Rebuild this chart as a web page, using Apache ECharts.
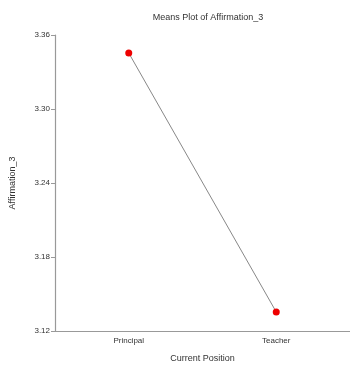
<!DOCTYPE html>
<html><head><meta charset="utf-8">
<script src="https://cdn.jsdelivr.net/npm/echarts@6/dist/echarts.min.js"></script>
<style>html,body{margin:0;padding:0;background:#fff}#c{width:350px;height:368px}</style>
</head><body><div id="c"></div>
<script>
const categories = ['Principal', 'Teacher'];
const means = [3.3454, 3.1354];
const yTicks = [3.12, 3.18, 3.24, 3.30, 3.36];

const chart = echarts.init(document.getElementById('c'), null, {renderer: 'canvas'});
const font = 'Liberation Sans, Arial, sans-serif';
chart.setOption({
  animation: false,
  backgroundColor: '#fff',
  title: {
    text: 'Means Plot of Affirmation_3',
    left: 203, top: 8, textAlign: 'center',
    textStyle: {fontSize: 9, fontWeight: 'normal', color: '#333', fontFamily: font}
  },
  grid: {left: 52, right: -5, top: 35, bottom: 32, containLabel: false},
  xAxis: {
    type: 'category', data: categories,
    name: 'Current Position', nameLocation: 'middle', nameGap: 23,
    nameTextStyle: {fontSize: 9, color: '#333', fontFamily: font},
    axisLine: {lineStyle: {color: '#999', width: 1.2}},
    axisTick: {alignWithLabel: true, length: 3, lineStyle: {color: '#999'}},
    axisLabel: {fontSize: 8, color: '#333', margin: 6, fontFamily: font},
    splitLine: {show: false}
  },
  yAxis: {
    type: 'value', min: 3.12, max: 3.36, interval: 0.06,
    name: 'Affirmation_3', nameLocation: 'middle', nameGap: 38,
    nameTextStyle: {fontSize: 9, color: '#333', fontFamily: font},
    axisLine: {show: true, lineStyle: {color: '#999', width: 1.2}},
    axisTick: {show: true, length: 4, lineStyle: {color: '#999'}},
    axisLabel: {fontSize: 8, color: '#333', margin: 5, fontFamily: font,
      formatter: v => v.toFixed(2)},
    splitLine: {show: false}
  },
  series: [{
    type: 'line', data: means,
    symbol: 'circle', symbolSize: 7,
    itemStyle: {color: '#ee0000'},
    lineStyle: {color: '#888', width: 1},
    z: 3
  }]
});
</script></body></html>
